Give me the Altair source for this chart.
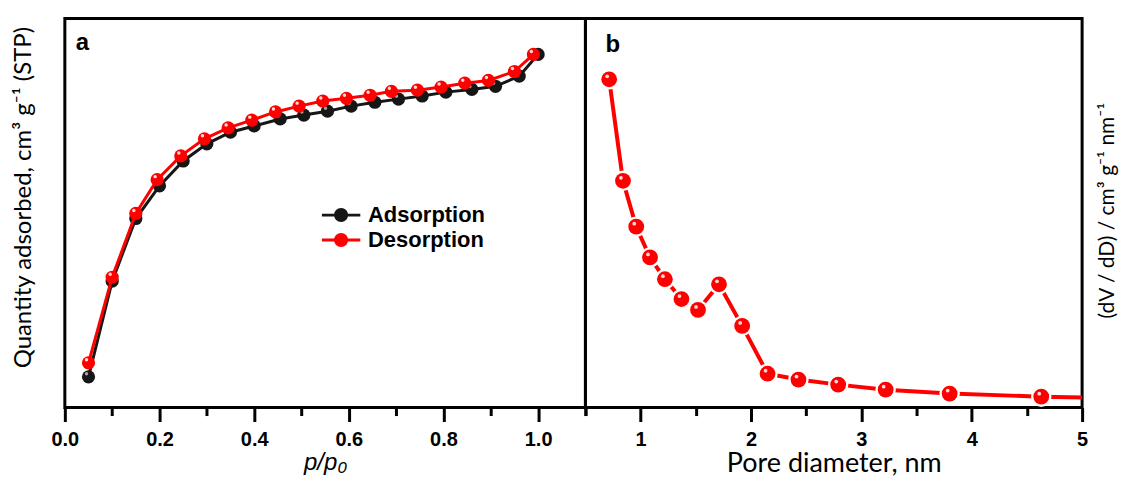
import altair as alt
import pandas as pd

# ---------------- data: panel a (N2 isotherm) ----------------
ads_p = [0.05, 0.10, 0.15, 0.20, 0.25, 0.30, 0.35, 0.40, 0.455, 0.505,
         0.555, 0.605, 0.655, 0.705, 0.755, 0.805, 0.86, 0.91, 0.96, 1.0]
ads_q = [7.9, 32.5, 48.6, 57.0, 63.4, 67.8, 70.8, 72.4, 74.2, 75.2,
         76.2, 77.5, 78.5, 79.3, 80.1, 81.1, 81.8, 82.6, 85.2, 90.8]
des_p = [0.05, 0.10, 0.15, 0.195, 0.245, 0.295, 0.345, 0.395, 0.445, 0.495,
         0.545, 0.595, 0.645, 0.69, 0.745, 0.795, 0.845, 0.895, 0.95, 0.99]
des_q = [11.5, 33.5, 49.9, 58.6, 64.7, 69.1, 71.9, 73.9, 76.0, 77.5,
         78.8, 79.5, 80.3, 81.3, 81.6, 82.4, 83.4, 84.1, 86.4, 90.8]
series_names = ["Adsorption", "Desorption"]
left_ticks = [0.0, 0.1, 0.2, 0.3, 0.4, 0.5, 0.6, 0.7, 0.8, 0.9, 1.0, 1.1]

# ---------------- data: panel b (pore size distribution) ----------------
pore_d = [0.715, 0.84, 0.96, 1.085, 1.22, 1.37, 1.52, 1.71, 1.92, 2.15,
          2.43, 2.79, 3.22, 3.80, 4.63, 5.6]
dvdd = [84.4, 58.3, 46.5, 38.6, 33.0, 27.9, 25.1, 31.7, 21.0, 8.7,
        7.2, 5.9, 4.6, 3.6, 2.8, 2.2]
right_ticks = [0.5, 1.0, 1.5, 2.0, 2.5, 3.0, 3.5, 4.0, 4.5, 5.0]

iso = pd.concat([
    pd.DataFrame({"p": ads_p, "q": ads_q, "series": series_names[0]}),
    pd.DataFrame({"p": des_p, "q": des_q, "series": series_names[1]}),
], ignore_index=True)
psd = pd.DataFrame({"d": pore_d, "v": dvdd})

LAB_FONT = "Liberation Sans"
TTL_FONT = "Lato"
W_A, W_B, H = 522, 498, 390

color_scale = alt.Scale(domain=series_names, range=["#161616", "#ff0000"])
legend_path = ("M-2.75,-0.2L2.75,-0.2L2.75,0.2L-2.75,0.2Z "
               "M1,0A1,1 0 1,1 -1,0A1,1 0 1,1 1,0Z")
legend = alt.Legend(title=None, orient="none", legendX=266, legendY=186,
                    symbolType=legend_path, symbolSize=196, symbolStrokeWidth=0,
                    symbolOpacity=1, labelFont=LAB_FONT, labelFontSize=22,
                    labelFontWeight="bold", labelColor="black", labelOffset=16,
                    rowPadding=3, padding=0)

x_a = alt.X("p:Q", title="p/p₀",
            scale=alt.Scale(domain=[0, 1.1], nice=False, zero=False),
            axis=alt.Axis(values=left_ticks, grid=False, domain=False,
                          labelExpr="round(datum.value*10) % 2 == 0 ? format(datum.value, '.1f') : ''",
                          tickSize={"condition": {"test": "round(datum.value*10) % 2 == 0", "value": 14}, "value": 8},
                          tickWidth=3, tickColor="black", labelFlush=False, labelOverlap=False,
                          labelFont=LAB_FONT, labelFontSize=20, labelFontWeight="bold",
                          labelColor="black", labelPadding=8,
                          titleFont=LAB_FONT, titleFontSize=24, titleFontStyle="italic",
                          titleFontWeight="normal", titleColor="black", titlePadding=1))
y_a = alt.Y("q:Q", title="Quantity adsorbed, cm³ g⁻¹ (STP)",
            scale=alt.Scale(domain=[0, 100], nice=False),
            axis=alt.Axis(labels=False, ticks=False, domain=False, grid=False,
                          titleFont=TTL_FONT, titleFontSize=24, titleFontWeight="normal",
                          titleColor="black", titlePadding=29, titleY=179))

base_a = alt.Chart(iso)


def series_layers(name, line_color, hi_color):
    b = base_a.transform_filter(alt.datum.series == name)
    line = b.mark_line(color=line_color, strokeWidth=3).encode(x=x_a, y=y_a)
    pts = b.mark_point(filled=True, size=175, opacity=1, strokeWidth=0).encode(
        x=x_a, y=y_a, color=alt.Color("series:N", scale=color_scale, legend=legend))
    hi = b.mark_point(filled=True, size=12, color=hi_color, opacity=0.85,
                      xOffset=-2, yOffset=-3).encode(x=x_a, y=y_a)
    return [line, pts, hi]


label_a = alt.Chart(pd.DataFrame({"t": ["a"]})).mark_text(
    font=LAB_FONT, fontSize=24, fontWeight="bold", align="left",
    baseline="alphabetic", color="black").encode(text="t:N", x=alt.value(11), y=alt.value(31))

panel_a = alt.layer(*series_layers("Adsorption", "#161616", "#bbbbbb"),
                    *series_layers("Desorption", "#ff0000", "#ffffff"),
                    label_a).properties(width=W_A, height=H)

x_b = alt.X("d:Q", title="Pore diameter, nm",
            scale=alt.Scale(domain=[0.5, 5], nice=False, zero=False),
            axis=alt.Axis(values=right_ticks, grid=False, domain=False,
                          labelExpr="datum.value % 1 == 0 ? format(datum.value, 'd') : ''",
                          tickSize={"condition": {"test": "datum.value % 1 == 0", "value": 14}, "value": 8},
                          tickWidth=3, tickColor="black", labelFlush=False, labelOverlap=False,
                          labelFont=LAB_FONT, labelFontSize=20, labelFontWeight="bold",
                          labelColor="black", labelPadding=8,
                          titleFont=TTL_FONT, titleFontSize=27, titleFontWeight="normal",
                          titleColor="black", titlePadding=1))
y_b = alt.Y("v:Q", title="(dV / dD) / cm³ g⁻¹ nm⁻¹",
            scale=alt.Scale(domain=[0, 100], nice=False),
            axis=alt.Axis(orient="right", labels=False, ticks=False, domain=False, grid=False,
                          titleFont=TTL_FONT, titleFontSize=21, titleFontWeight="normal",
                          titleColor="black", titleAngle=270, titleBaseline="top",
                          titlePadding=14, titleY=192))

base_b = alt.Chart(psd)
line_b = base_b.mark_line(color="#ff0000", strokeWidth=4, clip=True).encode(x=x_b, y=y_b)
halo_b = base_b.mark_point(filled=True, size=420, color="white", opacity=1, clip=True).encode(x=x_b, y=y_b)
pts_b = base_b.mark_point(filled=True, size=250, color="#ff0000", opacity=1, clip=True).encode(x=x_b, y=y_b)
hi_b = base_b.mark_point(filled=True, size=14, color="white", opacity=0.85, clip=True,
                         xOffset=-2, yOffset=-3).encode(x=x_b, y=y_b)
label_b = alt.Chart(pd.DataFrame({"t": ["b"]})).mark_text(
    font=LAB_FONT, fontSize=24, fontWeight="bold", align="left",
    baseline="alphabetic", color="black").encode(text="t:N", x=alt.value(20), y=alt.value(33))

panel_b = alt.layer(line_b, halo_b, pts_b, hi_b, label_b).properties(width=W_B, height=H)

chart = alt.hconcat(panel_a, panel_b, spacing=0, bounds="flush").properties(
    padding={"left": 2, "top": 8, "right": 0, "bottom": 0}
).configure_view(stroke="black", strokeWidth=3)

chart.save("out.html", embed_options={"renderer": "svg", "actions": False})
